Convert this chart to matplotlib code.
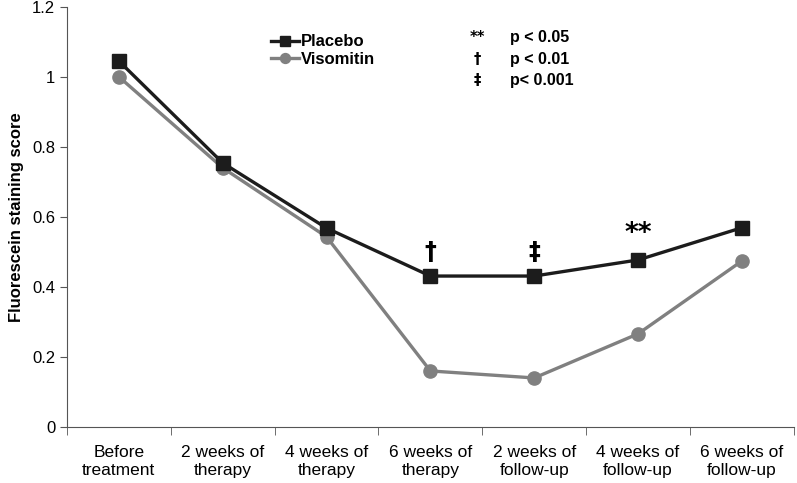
import matplotlib
matplotlib.use("Agg")
import matplotlib.pyplot as plt
import numpy as np

categories = ["Before\ntreatment", "2 weeks of\ntherapy", "4 weeks of\ntherapy",
              "6 weeks of\ntherapy", "2 weeks of\nfollow-up", "4 weeks of\nfollow-up",
              "6 weeks of\nfollow-up"]
placebo = [1.045, 0.754, 0.568, 0.431, 0.431, 0.477, 0.569]
visomitin = [1.0, 0.74, 0.543, 0.16, 0.14, 0.266, 0.474]
sig_idx = [3, 4, 5]
sig_marks = ["†", "‡", "**"]
key_symbols = ["**", "†", "‡"]
key_texts = ["p < 0.05", "p < 0.01", "p< 0.001"]

plt.rcParams['font.family'] = ['Liberation Sans', 'DejaVu Sans']

fig = plt.figure(figsize=(7.97, 4.83), dpi=100)
ax = fig.add_axes([0.084, 0.116, 0.912, 0.870])

x = np.arange(len(categories))
ax.plot(x, placebo, color="#1c1c1c", lw=2.4, marker="s", ms=10, label="Placebo", zorder=3)
ax.plot(x, visomitin, color="#808080", lw=2.4, marker="o", ms=9.5, label="Visomitin", zorder=2)

ax.set_xlim(-0.5, len(categories) - 0.5)
ax.set_ylim(0, 1.2)
ax.set_yticks([0, 0.2, 0.4, 0.6, 0.8, 1.0, 1.2])
ax.set_yticklabels(["0", "0.2", "0.4", "0.6", "0.8", "1", "1.2"], fontsize=12)
ax.set_xticks(x)
ax.set_xticklabels(categories, fontsize=12.5, linespacing=1.25)
ax.tick_params(axis='x', which='major', length=0, pad=13)
ax.set_xticks(np.arange(-0.5, len(categories)), minor=True)
ax.tick_params(axis='x', which='minor', length=6, color="#555555")
ax.tick_params(axis='y', length=5, color="#555555")
ax.spines['top'].set_visible(False)
ax.spines['right'].set_visible(False)
ax.spines['left'].set_color("#555555")
ax.spines['bottom'].set_color("#555555")
ax.set_ylabel("Fluorescein staining score", fontsize=12, fontweight='bold', labelpad=6)

for i, m in zip(sig_idx, sig_marks):
    ax.annotate(m, (x[i], placebo[i]), xytext=(0, 9), textcoords="offset points",
                ha="center", va="bottom", fontsize=19 if m == "**" else 17,
                fontweight="bold", family=['DejaVu Sans'])

leg = ax.legend(loc="upper left", bbox_to_anchor=(0.26, 0.97), frameon=False,
                handlelength=1.7, handletextpad=0.1, labelspacing=0.15, markerscale=0.75,
                prop={'size': 12, 'weight': 'bold'})

for k, (s, t) in enumerate(zip(key_symbols, key_texts)):
    yy = 0.926 - k * 0.051
    ax.text(0.565, yy, s, transform=ax.transAxes, fontsize=10.5, fontweight="bold",
            ha="center", va="center", family=['DejaVu Sans'])
    ax.text(0.609, yy, t, transform=ax.transAxes, fontsize=11.5, fontweight="bold",
            ha="left", va="center")

fig.savefig("out.png", dpi=100)
